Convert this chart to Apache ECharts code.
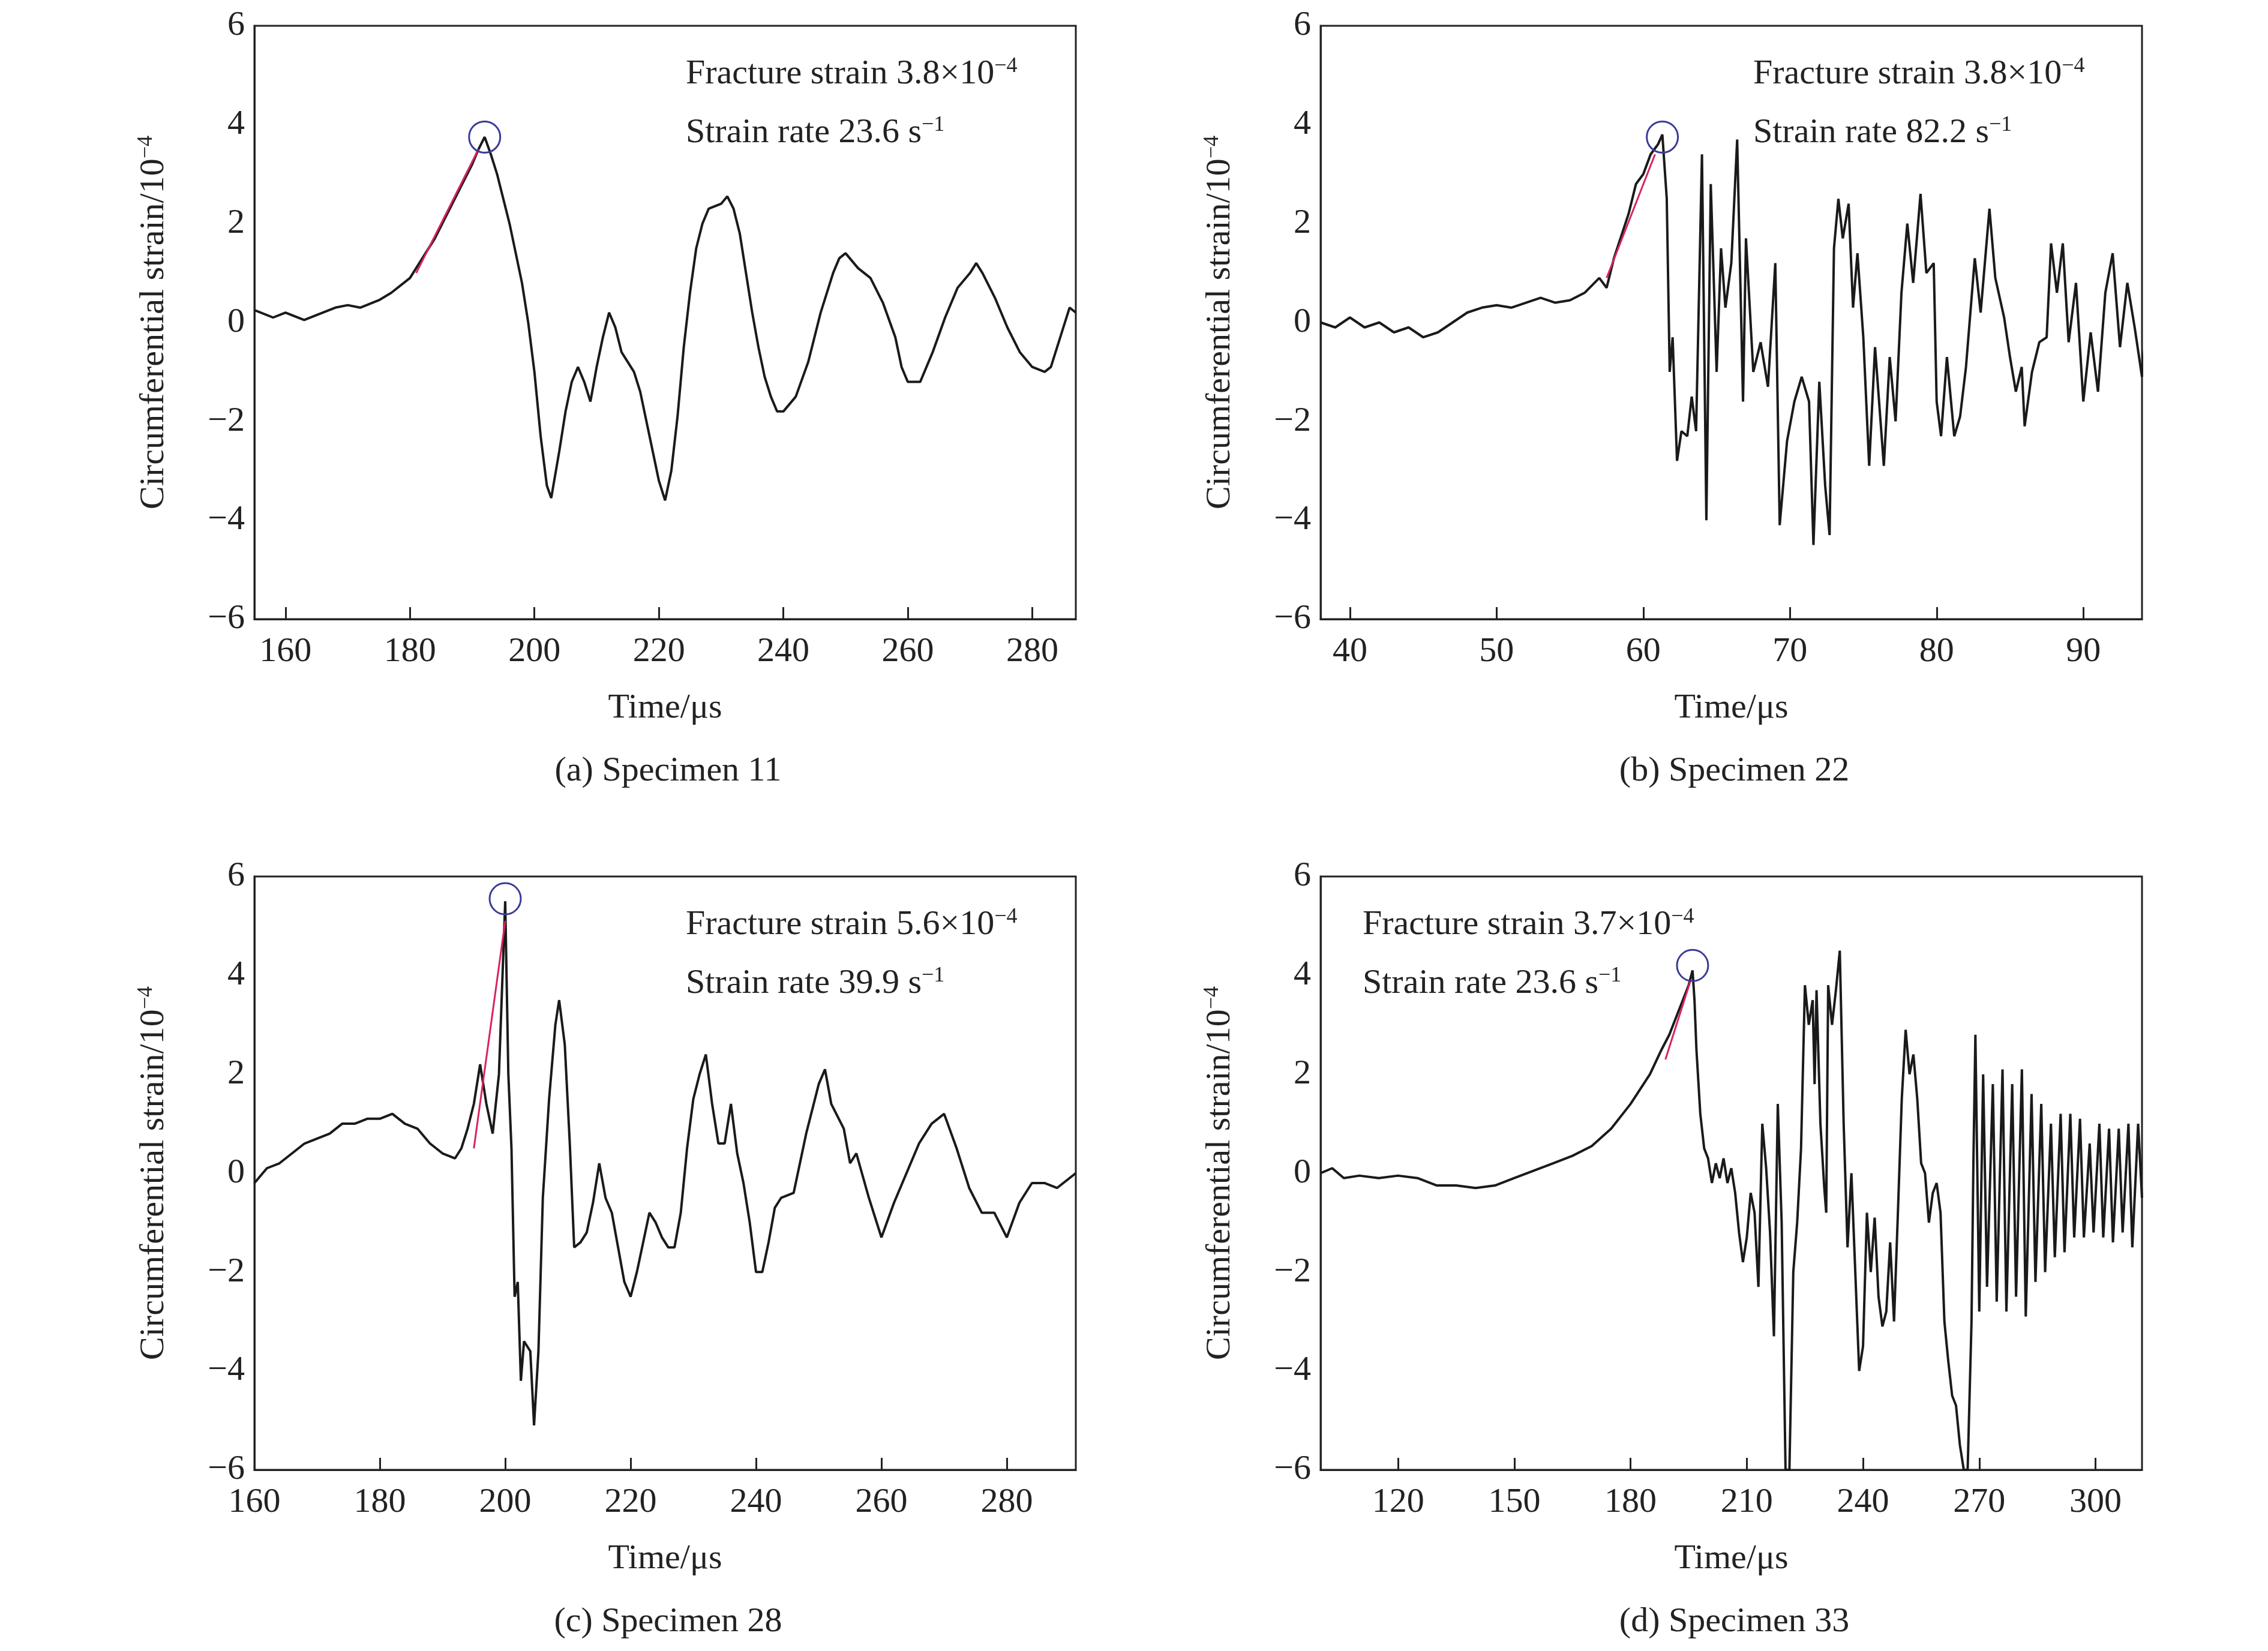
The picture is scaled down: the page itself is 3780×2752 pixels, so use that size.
<!DOCTYPE html>
<html>
<head>
<meta charset="utf-8">
<script src="https://cdn.jsdelivr.net/npm/echarts@6/dist/echarts.min.js"></script>
<style>html,body{margin:0;background:#fff}#main{width:3780px;height:2752px}</style>
</head>
<body>
<div id="main"></div>
<script>
// (a) Specimen 11
const timeA = [155,158,160,163,165,168,170,172,175,177,180,182,184,186,188,190,191,192,193,194,195,196,197,198,199,200,201,202,202.7,204,205,206,207,208,209,210,211,212,213,214,215,216,217,218,219,220,221,222,223,224,225,226,227,228,230,231,232,233,234,235,236,237,238,239,240,242,244,246,248,249,250,252,254,256,258,259,260,262,264,266,268,270,271,272,274,276,278,280,282,283,285,286,287];
const strainA = [0.25,0.1,0.2,0.05,0.15,0.3,0.35,0.3,0.45,0.6,0.9,1.3,1.7,2.2,2.7,3.2,3.5,3.75,3.4,3.0,2.5,2.0,1.4,0.8,0.0,-1.0,-2.3,-3.3,-3.55,-2.6,-1.8,-1.2,-0.9,-1.2,-1.6,-0.9,-0.3,0.2,-0.1,-0.6,-0.8,-1.0,-1.4,-2.0,-2.6,-3.2,-3.6,-3.0,-1.9,-0.5,0.6,1.5,2.0,2.3,2.4,2.55,2.3,1.8,1.0,0.2,-0.5,-1.1,-1.5,-1.8,-1.8,-1.5,-0.8,0.2,1.0,1.3,1.4,1.1,0.9,0.4,-0.3,-0.9,-1.2,-1.2,-0.6,0.1,0.7,1.0,1.2,1.0,0.5,-0.1,-0.6,-0.9,-1.0,-0.9,-0.1,0.3,0.2];

// (b) Specimen 22
const timeB = [38,39,40,41,42,43,44,45,46,47,48,49,50,51,52,53,54,55,56,57,57.5,58,59,59.5,60,60.5,61,61.3,61.6,61.8,62,62.3,62.6,63,63.3,63.6,64,64.3,64.6,65,65.3,65.6,66,66.4,66.8,67,67.5,68,68.5,69,69.3,69.8,70.3,70.8,71.3,71.6,72,72.4,72.7,73,73.3,73.6,74,74.3,74.6,75,75.4,75.8,76.4,76.8,77.2,77.6,78,78.4,78.9,79.3,79.8,80,80.3,80.7,81.2,81.6,82,82.6,83,83.6,84,84.6,85,85.4,85.8,86,86.5,87,87.5,87.8,88.2,88.6,89,89.5,90,90.5,91,91.5,92,92.5,93,93.5,94,94.2];
const strainB = [0,-0.1,0.1,-0.1,0,-0.2,-0.1,-0.3,-0.2,0,0.2,0.3,0.35,0.3,0.4,0.5,0.4,0.45,0.6,0.9,0.7,1.3,2.2,2.8,3.0,3.4,3.6,3.8,2.5,-1.0,-0.3,-2.8,-2.2,-2.3,-1.5,-2.2,3.4,-4.0,2.8,-1.0,1.5,0.3,1.2,3.7,-1.6,1.7,-1.0,-0.4,-1.3,1.2,-4.1,-2.4,-1.6,-1.1,-1.6,-4.5,-1.2,-3.3,-4.3,1.5,2.5,1.7,2.4,0.3,1.4,-0.3,-2.9,-0.5,-2.9,-0.7,-2.0,0.6,2.0,0.8,2.6,1.0,1.2,-1.6,-2.3,-0.7,-2.3,-1.9,-0.9,1.3,0.2,2.3,0.9,0.1,-0.7,-1.4,-0.9,-2.1,-1.0,-0.4,-0.3,1.6,0.6,1.6,-0.4,0.8,-1.6,-0.2,-1.4,0.6,1.4,-0.5,0.8,-0.1,-1.1,-0.4];

// (c) Specimen 28
const timeC = [160,162,164,166,168,170,172,174,176,178,180,182,184,186,188,190,192,193,194,195,196,197,198,199,200,200.5,201,201.5,202,202.5,203,204,204.6,205.3,206,207,208,208.6,209.5,210.3,211,212,213,214,215,216,217,218,219,220,221,222,223,224,225,226,227,228,229,230,231,232,233,234,235,236,237,238,239,240,241,242,243,244,246,248,250,251,252,254,255,256,258,260,262,264,266,268,270,272,274,276,278,280,282,284,286,288,290,291];
const strainC = [-0.2,0.1,0.2,0.4,0.6,0.7,0.8,1.0,1.0,1.1,1.1,1.2,1.0,0.9,0.6,0.4,0.3,0.5,0.9,1.4,2.2,1.4,0.8,2.0,5.5,2.0,0.5,-2.5,-2.2,-4.2,-3.4,-3.6,-5.1,-3.6,-0.5,1.5,3.0,3.5,2.6,0.6,-1.5,-1.4,-1.2,-0.6,0.2,-0.5,-0.8,-1.5,-2.2,-2.5,-2.0,-1.4,-0.8,-1.0,-1.3,-1.5,-1.5,-0.8,0.5,1.5,2.0,2.4,1.4,0.6,0.6,1.4,0.4,-0.2,-1.0,-2.0,-2.0,-1.4,-0.7,-0.5,-0.4,0.8,1.8,2.1,1.4,0.9,0.2,0.4,-0.5,-1.3,-0.6,0.0,0.6,1.0,1.2,0.5,-0.3,-0.8,-0.8,-1.3,-0.6,-0.2,-0.2,-0.3,-0.1,0.0];

// (d) Specimen 33
const timeD = [100,103,106,110,115,120,125,130,135,140,145,150,155,160,165,170,175,180,185,188,190,192,194,195,196,196.5,197,198,199,200,201,202,203,204,205,206,207,208,209,210,211,212,213,214,215,216,217,218,219,220,221,222,223,224,225,226,227,227.5,228,229,230,230.5,231,232,233,234,235,236,237,238,239,240,241,242,243,244,245,246,247,248,249,250,251,252,253,254,255,256,257,258,259,260,261,262,263,264,265,266,267,268,268.5,269,270,271,272,273.5,274.5,276,277,278.5,279.5,281,282,283.5,284.5,286,287,288.5,289.5,291,292,293.5,294.5,296,297,298.5,299.5,301,302,303.5,304.5,306,307,308.5,309.5,311,312];
const strainD = [0,0.1,-0.1,-0.05,-0.1,-0.05,-0.1,-0.25,-0.25,-0.3,-0.25,-0.1,0.05,0.2,0.35,0.55,0.9,1.4,2.0,2.5,2.8,3.2,3.6,3.8,4.1,3.5,2.5,1.2,0.5,0.3,-0.2,0.2,-0.1,0.3,-0.2,0.1,-0.4,-1.2,-1.8,-1.3,-0.4,-0.8,-2.3,1.0,0.1,-1.2,-3.3,1.4,-1.0,-6.0,-6.0,-2.0,-1.0,0.5,3.8,3.0,3.5,1.8,3.7,1.0,-0.3,-0.8,3.8,3.0,3.7,4.5,1.0,-1.5,0.0,-2.0,-4.0,-3.5,-0.8,-2.0,-0.9,-2.5,-3.1,-2.8,-1.4,-3.0,-0.8,1.5,2.9,2.0,2.4,1.5,0.2,0.0,-1.0,-0.4,-0.2,-0.8,-3.0,-3.8,-4.5,-4.7,-5.5,-6.0,-6.0,-3.0,0.3,2.8,-2.8,2.0,-2.3,1.8,-2.6,2.1,-2.8,1.8,-2.5,2.1,-2.9,1.6,-2.2,1.4,-2.0,1.0,-1.7,1.2,-1.6,1.2,-1.3,1.1,-1.3,0.6,-1.2,1.0,-1.3,0.9,-1.4,0.9,-1.2,1.0,-1.5,1.0,-0.5];

const fitLines = [[[181,1.0],[191,3.5]], [[57.5,0.9],[60.8,3.4]], [[195,0.5],[200,5.1]], [[189,2.3],[195.5,3.9]]];
const peaks = [[192,3.75],[61.3,3.75],[200,5.55],[196,4.2]];
const xMin = [155, 38, 160, 100];
const xMax = [287, 94, 291, 312];
const xTicks = [[160,180,200,220,240,260,280],[40,50,60,70,80,90],[160,180,200,220,240,260,280],[120,150,180,210,240,270,300]];
const fracStrain = ['3.8','3.8','5.6','3.7'];
const strainRate = ['23.6','82.2','39.9','23.6'];
const captions = ['(a) Specimen 11','(b) Specimen 22','(c) Specimen 28','(d) Specimen 33'];

const times = [timeA, timeB, timeC, timeD];
const strains = [strainA, strainB, strainC, strainD];

const FONT = 'Liberation Serif';
const lefts = [424, 2201, 424, 2201];
const tops = [43, 43, 1461, 1461];
const W = 1369, H = 989;
const noteX = [1138, 2917, 1138, 2266];
const rich = { sup: { fontSize: 36, verticalAlign: 'top', padding: [0,0,26,0], fontFamily: FONT, color: '#222' } };

const chart = echarts.init(document.getElementById('main'));
const grid = [], xAxis = [], yAxis = [], series = [], title = [];
for (let i = 0; i < 4; i++) {
  grid.push({ left: lefts[i], top: tops[i], width: W, height: H, show: true, borderColor: '#222', borderWidth: 3 });
  xAxis.push({
    gridIndex: i, type: 'value', min: xMin[i], max: xMax[i],
    name: 'Time/μs', nameLocation: 'middle', nameGap: 120,
    nameTextStyle: { fontFamily: FONT, fontSize: 58, color: '#222' },
    axisLine: { onZero: false, lineStyle: { color: '#222', width: 3 } },
    axisTick: { inside: true, length: 20, lineStyle: { width: 3 }, customValues: xTicks[i] },
    axisLabel: { customValues: xTicks[i], fontFamily: FONT, fontSize: 58, color: '#222', margin: 26 },
    splitLine: { show: false }
  });
  yAxis.push({
    gridIndex: i, type: 'value', min: -6, max: 6, interval: 2,
    name: 'Circumferential strain/10{sup|−4}', nameLocation: 'middle', nameGap: 136, nameRotate: 90,
    nameTextStyle: { fontFamily: FONT, fontSize: 58, color: '#222', rich: rich },
    axisLine: { onZero: false, lineStyle: { color: '#222', width: 3 } },
    axisTick: { show: false },
    axisLabel: { fontFamily: FONT, fontSize: 58, color: '#222', margin: 16, formatter: v => String(v).replace('-', '−') },
    splitLine: { show: false }
  });
  series.push({
    type: 'line', xAxisIndex: i, yAxisIndex: i, showSymbol: false, symbol: 'none',
    data: times[i].map((t, k) => [t, strains[i][k]]),
    lineStyle: { color: '#1a1a1a', width: 4 }, animation: false
  });
  series.push({
    type: 'line', xAxisIndex: i, yAxisIndex: i, symbol: 'none', data: fitLines[i],
    lineStyle: { color: '#d8245a', width: 3 }, animation: false, z: 3
  });
  series.push({
    type: 'scatter', xAxisIndex: i, yAxisIndex: i, symbol: 'circle', symbolSize: 52,
    data: peaks[i].length ? [peaks[i]] : [],
    itemStyle: { color: 'rgba(0,0,0,0)', borderColor: '#3a3a9a', borderWidth: 3, opacity: 1 },
    animation: false, z: 5, silent: true
  });
  const row = i < 2 ? 0 : 1;
  title.push({
    text: 'Fracture strain ' + fracStrain[i] + '×10{sup|−4}',
    left: noteX[i], top: tops[i] + 45,
    textStyle: { fontFamily: FONT, fontSize: 58, fontWeight: 'normal', color: '#222', rich: rich }
  });
  title.push({
    text: 'Strain rate ' + strainRate[i] + ' s{sup|−1}',
    left: noteX[i], top: tops[i] + 143,
    textStyle: { fontFamily: FONT, fontSize: 58, fontWeight: 'normal', color: '#222', rich: rich }
  });
  title.push({
    text: captions[i], left: lefts[i] + W / 2, top: row ? 2670 : 1252, textAlign: 'center',
    textStyle: { fontFamily: FONT, fontSize: 58, fontWeight: 'normal', color: '#222' }
  });
}
chart.setOption({ backgroundColor: '#fff', animation: false, title, grid, xAxis, yAxis, series });
</script>
</body>
</html>
